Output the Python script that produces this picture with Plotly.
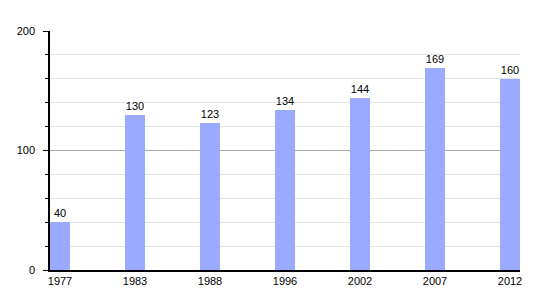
import plotly.graph_objects as go

years = ["1977", "1983", "1988", "1996", "2002", "2007", "2012"]
values = [40, 130, 123, 134, 144, 169, 160]

fig = go.Figure()
fig.add_trace(go.Bar(
    x=years, y=values,
    marker=dict(color="#99aaff", line=dict(width=0)),
    width=0.2667,
    text=[str(v) for v in values],
    textposition="outside",
    textfont=dict(color="black", size=11, family="Liberation Sans, Arial, sans-serif"),
    cliponaxis=False,
))

fig.update_layout(
    width=550, height=300,
    margin=dict(l=50, r=30, t=31, b=30),
    plot_bgcolor="white", paper_bgcolor="white",
    showlegend=False,
    font=dict(family="Liberation Sans, Arial, sans-serif", size=11, color="black"),
    bargap=0,
)
fig.update_xaxes(
    type="category",
    range=[-0.1333, 6.1333],
    showgrid=False,
    showline=True, linecolor="black", linewidth=1.5,
    ticks="", ticklabelstandoff=0,
    zeroline=False,
)
fig.update_yaxes(
    range=[0, 200],
    dtick=100, tick0=0,
    showgrid=True, gridcolor="#aaaaaa", gridwidth=1,
    showline=True, linecolor="black", linewidth=1.5,
    ticks="outside", ticklen=5, tickcolor="black", tickwidth=1,
    ticklabelstandoff=6,
    zeroline=False,
    minor=dict(dtick=20, ticks="outside", ticklen=3, tickcolor="black",
               showgrid=True, gridcolor="#e3e3e3", gridwidth=1),
)

fig.write_html("out.html")
